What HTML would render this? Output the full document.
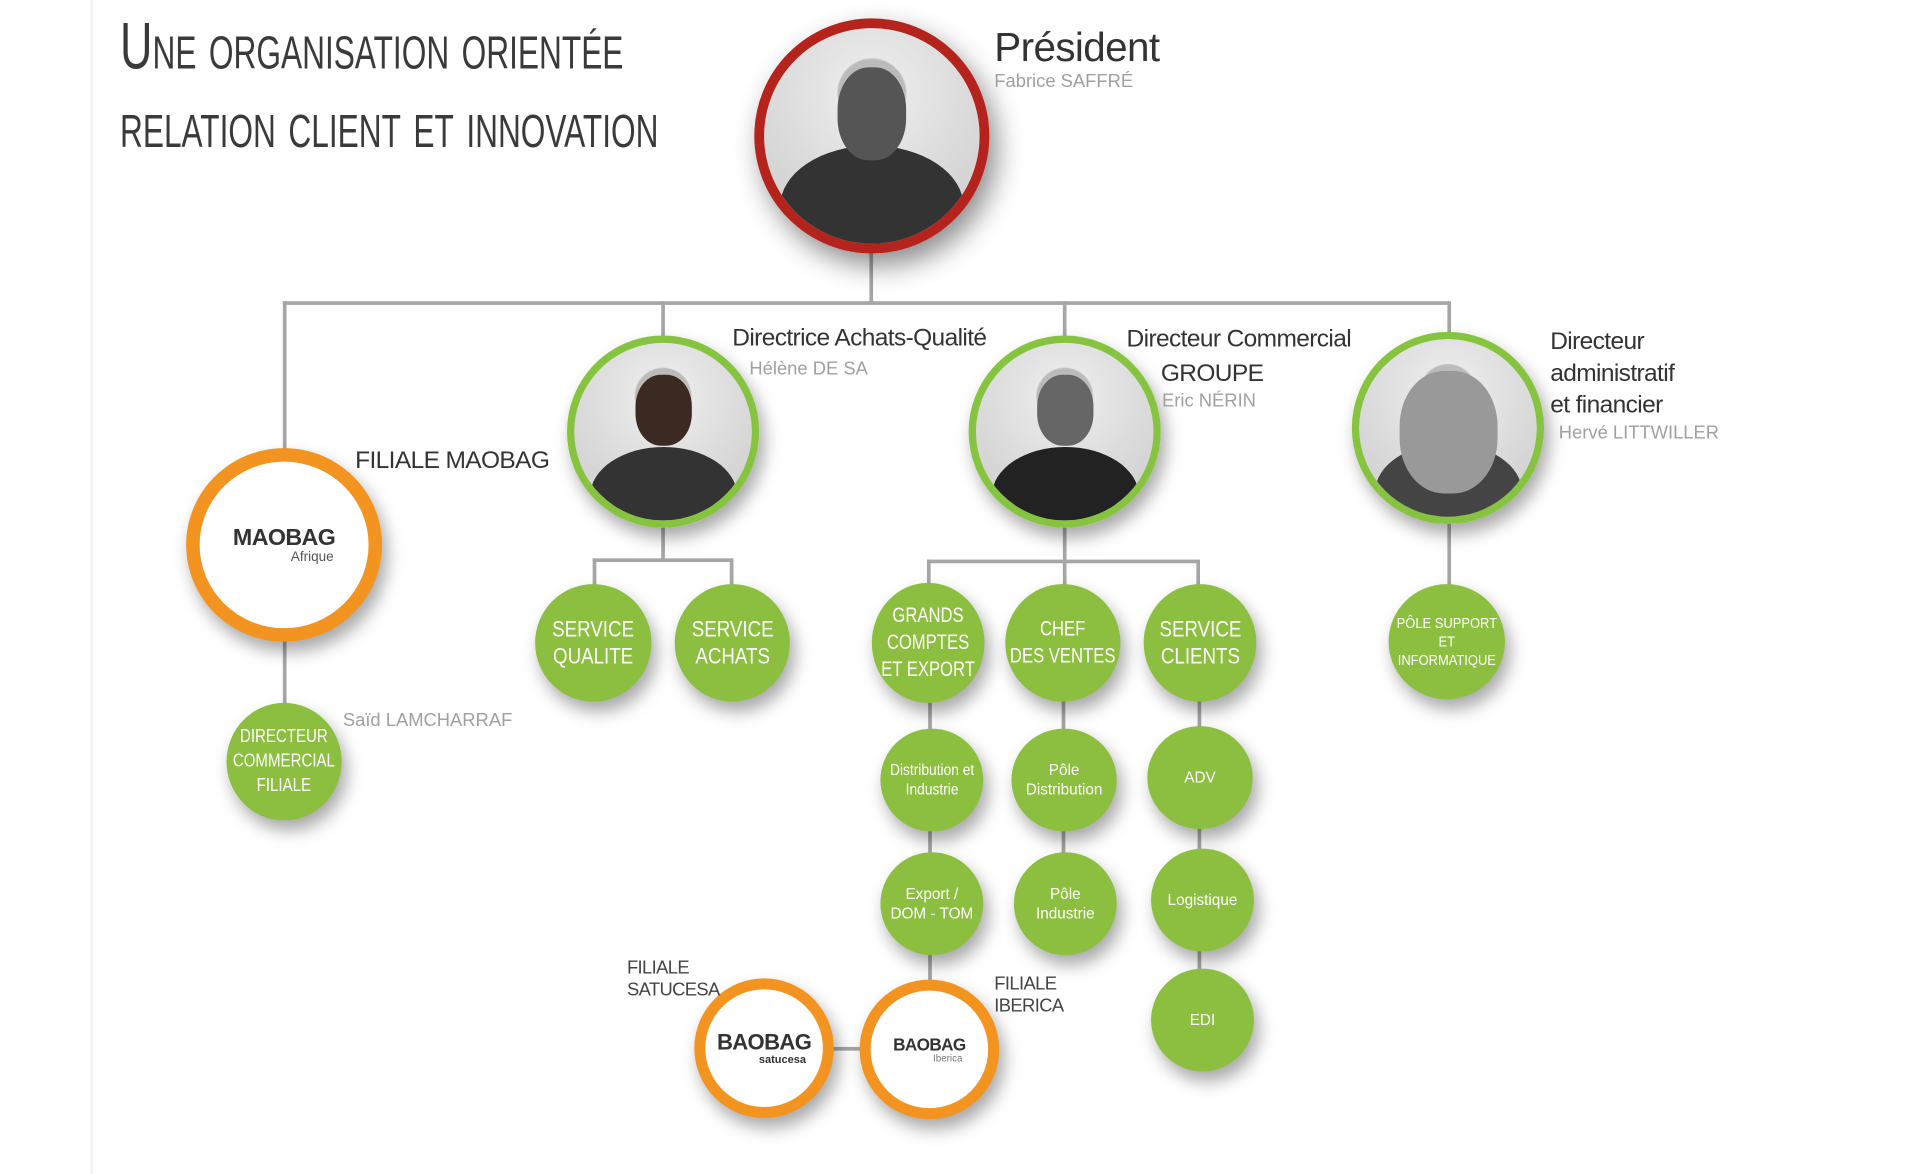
<!DOCTYPE html>
<html><head><meta charset="utf-8">
<style>
html,body{margin:0;padding:0;background:#fff;width:1920px;height:1174px;overflow:hidden}
#w{position:absolute;left:0;top:0;width:1568px;height:959px;transform-origin:0 0;transform:scale(1.2245,1.2245);font-family:"Liberation Sans",sans-serif}
.a{position:absolute}
.l{position:absolute;background:#a6a6a6}
.c{position:absolute;border-radius:50%;box-sizing:border-box;display:flex;align-items:center;justify-content:center;text-align:center;box-shadow:4px 8px 14px rgba(0,0,0,.35);white-space:nowrap}
.g{background:#8cbf3f;color:#fff}
.c span{display:inline-block;transform:scaleX(.85)}
.t{position:absolute;color:#333;font-size:20px;white-space:nowrap;letter-spacing:-.5px}
.n{position:absolute;color:#a0a0a0;font-size:14px;white-space:nowrap}
.ph{border:6px solid #86c440;background:radial-gradient(circle at 50% 30%,#bbb 0,#bbb 18%,#e8e8e8 19%,#d8d8d8 60%,#ccc 100%);overflow:hidden}
.body{position:absolute;left:50%;bottom:-20px;width:120px;height:80px;margin-left:-60px;border-radius:50% 50% 0 0;background:#333}
.head{position:absolute;left:50%;top:18%;width:46px;height:58px;margin-left:-23px;border-radius:45%;background:#777}
.or{border:11px solid #f39420;background:#fff}
.logo{font-weight:bold;color:#333;font-size:18px;letter-spacing:-.5px;line-height:1}
</style></head><body><div id="w">
<div class="l" style="left:74px;top:0;width:2px;height:959px;background:#f2f2f2"></div>
<div class="t" style="left:98px;top:6px;font-size:54px;font-variant:small-caps;transform:scaleX(.68);transform-origin:0 0;color:#3a3a3a;letter-spacing:0;line-height:64px">Une organisation orientée<br>relation client et innovation</div>

<!-- lines -->
<div class="l" style="left:710px;top:200px;width:3px;height:48px"></div>
<div class="l" style="left:231px;top:246px;width:953px;height:3px"></div>
<div class="l" style="left:231px;top:246px;width:3px;height:125px"></div>
<div class="l" style="left:540px;top:246px;width:3px;height:30px"></div>
<div class="l" style="left:868px;top:246px;width:3px;height:30px"></div>
<div class="l" style="left:1182px;top:246px;width:3px;height:30px"></div>
<div class="l" style="left:231px;top:520px;width:3px;height:58px"></div>
<div class="l" style="left:540px;top:428px;width:3px;height:30px"></div>
<div class="l" style="left:484px;top:456px;width:114px;height:3px"></div>
<div class="l" style="left:484px;top:456px;width:3px;height:24px"></div>
<div class="l" style="left:596px;top:456px;width:3px;height:24px"></div>
<div class="l" style="left:868px;top:428px;width:3px;height:50px"></div>
<div class="l" style="left:757px;top:457px;width:222px;height:3px"></div>
<div class="l" style="left:757px;top:457px;width:3px;height:22px"></div>
<div class="l" style="left:977px;top:457px;width:3px;height:22px"></div>
<div class="l" style="left:1182px;top:426px;width:3px;height:52px"></div>
<div class="l" style="left:758px;top:570px;width:3px;height:235px"></div>
<div class="l" style="left:867px;top:570px;width:3px;height:130px"></div>
<div class="l" style="left:978px;top:570px;width:3px;height:230px"></div>
<div class="l" style="left:676px;top:855px;width:30px;height:3px"></div>

<!-- president -->
<div class="c ph" style="left:616px;top:15px;width:192px;height:192px;border:8px solid #b5241c;box-shadow:6px 10px 22px rgba(0,0,0,.45)"><div class="body" style="width:150px;height:100px;margin-left:-75px"></div><div class="head" style="width:56px;height:76px;margin-left:-28px;background:#555"></div></div>
<div class="t" style="left:812px;top:20px;font-size:33px">Président</div>
<div class="n" style="left:812px;top:58px;font-size:15px">Fabrice SAFFRÉ</div>

<!-- maobag -->
<div class="c or" style="left:152px;top:366px;width:160px;height:158px"><div><div class="logo" style="font-size:19px">MAOBAG</div><div style="font-size:11px;color:#555;margin-left:46px">Afrique</div></div></div>
<div class="t" style="left:290px;top:365px">FILIALE MAOBAG</div>
<div class="c g" style="left:185px;top:574px;width:94px;height:96px;font-size:15px;line-height:20px"><span style="transform:scaleX(.82)">DIRECTEUR<br>COMMERCIAL<br>FILIALE</span></div>
<div class="n" style="left:280px;top:580px;font-size:15px">Saïd LAMCHARRAF</div>

<!-- helene -->
<div class="c ph" style="left:463px;top:274px;width:157px;height:157px"><div class="body"></div><div class="head" style="background:#3a2a22"></div></div>
<div class="t" style="left:598px;top:265px">Directrice Achats-Qualité</div>
<div class="n" style="left:612px;top:293px;font-size:15px">Hélène DE SA</div>
<div class="c g" style="left:437px;top:477px;width:95px;height:96px;font-size:18px;line-height:22px"><span>SERVICE<br>QUALITE</span></div>
<div class="c g" style="left:551px;top:477px;width:94px;height:96px;font-size:18px;line-height:22px"><span>SERVICE<br>ACHATS</span></div>

<!-- eric -->
<div class="c ph" style="left:791px;top:274px;width:157px;height:157px"><div class="body" style="background:#222"></div><div class="head" style="background:#666"></div></div>
<div class="t" style="left:920px;top:266px">Directeur Commercial</div>
<div class="t" style="left:948px;top:294px">GROUPE</div>
<div class="n" style="left:949px;top:319px;font-size:15px">Eric NÉRIN</div>
<div class="c g" style="left:712px;top:476px;width:92px;height:98px;font-size:17px;line-height:22px"><span style="transform:scaleX(.8)">GRANDS<br>COMPTES<br>ET EXPORT</span></div>
<div class="c g" style="left:821px;top:477px;width:94px;height:96px;font-size:17px;line-height:22px"><span style="transform:scaleX(.8)">CHEF<br>DES VENTES</span></div>
<div class="c g" style="left:934px;top:477px;width:92px;height:96px;font-size:18px;line-height:22px"><span>SERVICE<br>CLIENTS</span></div>
<div class="c g" style="left:719px;top:595px;width:84px;height:84px;font-size:12.5px;line-height:16px"><span style="transform:scaleX(.9)">Distribution et<br>Industrie</span></div>
<div class="c g" style="left:719px;top:696px;width:84px;height:84px;font-size:12.5px;line-height:16px">Export /<br>DOM - TOM</div>
<div class="c g" style="left:826px;top:595px;width:86px;height:84px;font-size:12.5px;line-height:16px">Pôle<br>Distribution</div>
<div class="c g" style="left:828px;top:696px;width:84px;height:84px;font-size:12.5px;line-height:16px">Pôle<br>Industrie</div>
<div class="c g" style="left:937px;top:593px;width:86px;height:84px;font-size:12.5px">ADV</div>
<div class="c g" style="left:940px;top:693px;width:84px;height:84px;font-size:12.5px">Logistique</div>
<div class="c g" style="left:940px;top:791px;width:84px;height:84px;font-size:12.5px">EDI</div>

<!-- herve -->
<div class="c ph" style="left:1104px;top:271px;width:157px;height:157px"><div class="body" style="background:#444"></div><div class="head" style="width:80px;height:100px;margin-left:-40px;background:#999"></div></div>
<div class="t" style="left:1266px;top:266px;line-height:26px">Directeur<br>administratif<br>et financier</div>
<div class="n" style="left:1273px;top:345px;font-size:15px">Hervé LITTWILLER</div>
<div class="c g" style="left:1134px;top:477px;width:95px;height:94px;font-size:12px;line-height:15px"><span style="transform:scaleX(.88)">PÔLE SUPPORT<br>ET<br>INFORMATIQUE</span></div>

<!-- filiales bottom -->
<div class="c or" style="left:567px;top:799px;width:114px;height:114px;border-width:9px"><div><div class="logo">BAOBAG</div><div style="font-size:9px;color:#333;margin-left:30px;font-weight:bold">satucesa</div></div></div>
<div class="c or" style="left:702px;top:800px;width:114px;height:114px;border-width:9px"><div><div class="logo" style="font-size:14px">BAOBAG</div><div style="font-size:8px;color:#777;margin-left:30px">Iberica</div></div></div>
<div class="t" style="left:512px;top:782px;font-size:15px;line-height:18px;color:#444">FILIALE<br>SATUCESA</div>
<div class="t" style="left:812px;top:795px;font-size:15px;line-height:18px;color:#444">FILIALE<br>IBERICA</div>
</div></body></html>
